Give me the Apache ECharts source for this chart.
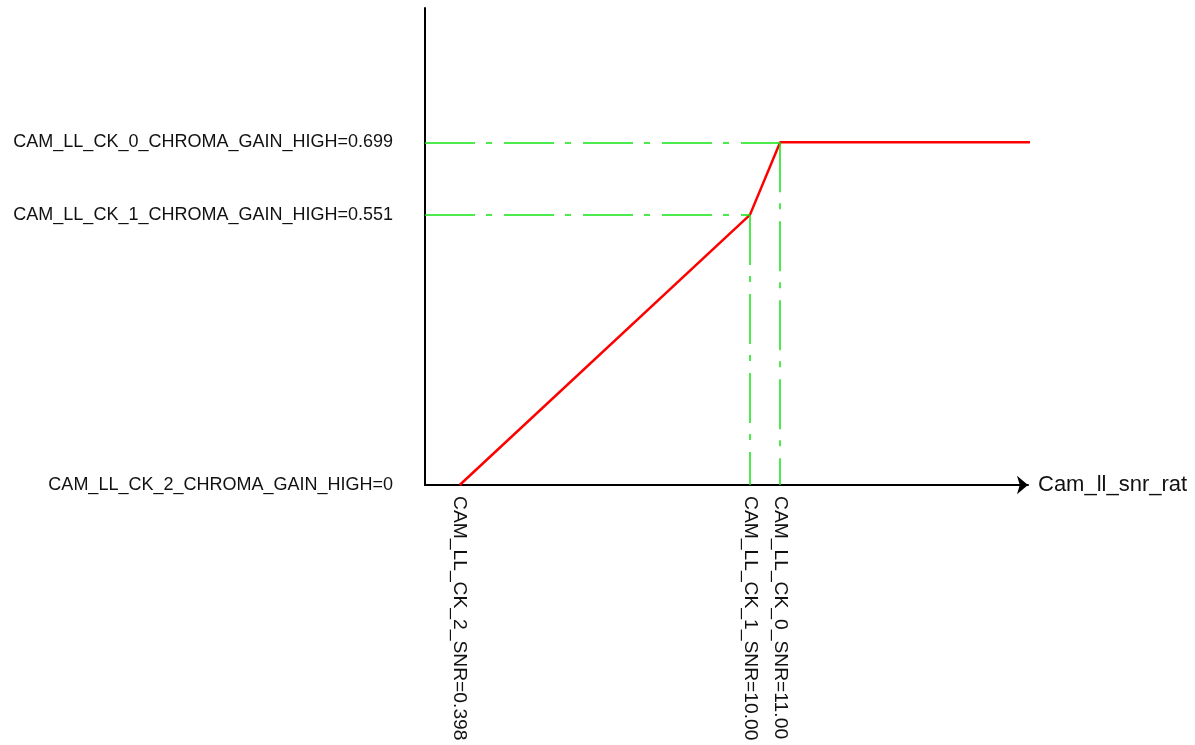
<!DOCTYPE html>
<html>
<head>
<meta charset="utf-8">
<title>Cam_ll_snr_rat chroma gain curve</title>
<script src="https://cdn.jsdelivr.net/npm/echarts@6/dist/echarts.min.js"></script>
<style>
  html, body { margin: 0; padding: 0; background: #ffffff; }
  #chart { width: 1195px; height: 745px; }
</style>
</head>
<body>
<div id="chart"></div>
<script>
// Knee points of the chroma gain curve (SNR ratio -> CHROMA_GAIN_HIGH)
const snrValues = [0.398, 10.00, 11.00];
const gainValues = [0, 0.551, 0.699];
const snrLabels = ['CAM_LL_CK_2_SNR=0.398', 'CAM_LL_CK_1_SNR=10.00', 'CAM_LL_CK_0_SNR=11.00'];
const gainLabels = ['CAM_LL_CK_2_CHROMA_GAIN_HIGH=0', 'CAM_LL_CK_1_CHROMA_GAIN_HIGH=0.551', 'CAM_LL_CK_0_CHROMA_GAIN_HIGH=0.699'];
// The curve stays flat past the last knee up to this SNR
const snrTail = 19.7;

const X_MIN = -0.75;
const X_MAX = 19.2;
const Y_MAX = 0.973;

const FONT = '"Liberation Sans", Arial, Helvetica, sans-serif';
const GUIDE_GREEN = '#12e312';

function nearestLabel(values, labels, v) {
  let best = 0;
  for (let i = 1; i < values.length; i++) {
    if (Math.abs(values[i] - v) < Math.abs(values[best] - v)) best = i;
  }
  return labels[best];
}

// Curve: knee points plus the flat tail
const curve = snrValues.map((s, i) => [s, gainValues[i]]);
curve.push([snrTail, gainValues[gainValues.length - 1]]);

// Dash-dot guides: from the gain axis across to each upper knee, then down to the SNR axis
const guides = [];
for (let i = 1; i < snrValues.length; i++) {
  guides.push([{ coord: [X_MIN, gainValues[i]] }, { coord: [snrValues[i], gainValues[i]] }]);
  guides.push([{ coord: [snrValues[i], gainValues[i]] }, { coord: [snrValues[i], 0] }]);
}

const chart = echarts.init(document.getElementById('chart'), null, { renderer: 'canvas' });

chart.setOption({
  animation: false,
  backgroundColor: '#ffffff',
  grid: { left: 425, top: 8, width: 603, height: 477, containLabel: false },
  xAxis: {
    type: 'value',
    min: X_MIN,
    max: X_MAX,
    name: 'Cam_ll_snr_rat',
    nameLocation: 'end',
    nameGap: 10,
    nameTextStyle: { fontFamily: FONT, fontSize: 22, color: '#111111', verticalAlign: 'middle' },
    axisLine: {
      show: true,
      onZero: false,
      symbol: ['none', 'arrow'],
      symbolSize: [14, 11],
      lineStyle: { color: '#000000', width: 2 }
    },
    axisTick: { show: false },
    splitLine: { show: false },
    axisLabel: {
      customValues: snrValues,
      rotate: -90,
      margin: 11,
      fontFamily: FONT,
      fontSize: 19.25,
      color: '#111111',
      formatter: v => nearestLabel(snrValues, snrLabels, v)
    }
  },
  yAxis: {
    type: 'value',
    min: 0,
    max: Y_MAX,
    axisLine: { show: true, onZero: false, lineStyle: { color: '#000000', width: 2 } },
    axisTick: { show: false },
    splitLine: { show: false },
    axisLabel: {
      customValues: gainValues,
      margin: 32,
      fontFamily: FONT,
      fontSize: 18,
      color: '#111111',
      formatter: v => nearestLabel(gainValues, gainLabels, v)
    }
  },
  series: [
    {
      name: 'guides',
      type: 'line',
      data: [],
      z: 1,
      silent: true,
      markLine: {
        silent: true,
        symbol: ['none', 'none'],
        label: { show: false },
        lineStyle: { color: GUIDE_GREEN, width: 1.5, type: [50, 11, 6, 12] },
        emphasis: { disabled: true },
        data: guides
      }
    },
    {
      name: 'CHROMA_GAIN_HIGH',
      type: 'line',
      data: curve,
      z: 3,
      clip: false,
      showSymbol: false,
      symbol: 'none',
      lineStyle: { color: '#ff0000', width: 2.5 }
    }
  ]
});
</script>
</body>
</html>
